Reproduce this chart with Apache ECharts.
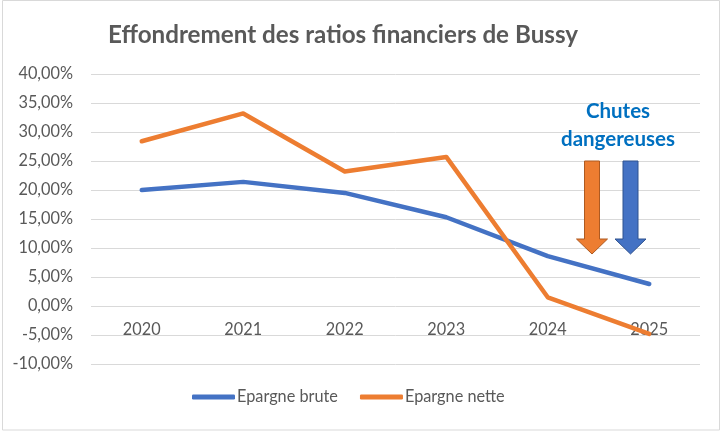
<!DOCTYPE html>
<html>
<head>
<meta charset="utf-8">
<script src="https://cdn.jsdelivr.net/npm/echarts@6/dist/echarts.min.js"></script>
<style>
html,body{margin:0;padding:0;background:#fff;}
#chart{width:723px;height:432px;}
</style>
</head>
<body>
<div id="chart"></div>
<script>
const categories = ['2020', '2021', '2022', '2023', '2024', '2025'];
const epargneBrute = [20.0, 21.4, 19.5, 15.3, 8.6, 3.8];
const epargneNette = [28.4, 33.2, 23.2, 25.7, 1.5, -4.8];
const seriesNames = ['Epargne brute', 'Epargne nette'];
const titleText = 'Effondrement des ratios financiers de Bussy';
const annotationText = 'Chutes\ndangereuses';

const FONT = 'Lato';
const LABEL_SIZE = 16.3;
const chart = echarts.init(document.getElementById('chart'));

function arrow(x, color, stroke) {
  return {
    type: 'polygon',
    shape: { points: [[x - 7.5, 161], [x + 7.5, 161], [x + 7.5, 239], [x + 15.5, 239], [x, 254], [x - 15.5, 239], [x - 7.5, 239]] },
    style: { fill: color, stroke: stroke, lineWidth: 1 },
    z: 10
  };
}

chart.setOption({
  animation: false,
  backgroundColor: '#ffffff',
  title: {
    text: titleText,
    left: 108,
    top: 23,
    padding: 0,
    textStyle: { fontFamily: FONT, fontSize: 24.2, fontWeight: 'bold', color: '#595959' }
  },
  grid: { left: 91, right: 23, top: 74, bottom: 68, containLabel: false },
  legend: {
    bottom: 22,
    left: 187,
    itemWidth: 43,
    itemHeight: 5,
    itemGap: 22,
    icon: 'roundRect',
    textStyle: { fontFamily: FONT, fontSize: LABEL_SIZE, color: '#595959', padding: [0, 0, 0, -3] },
    data: seriesNames
  },
  xAxis: {
    type: 'category',
    data: categories,
    boundaryGap: true,
    offset: -58,
    axisLine: { show: false, onZero: false },
    axisTick: { show: false },
    axisLabel: { margin: 16, fontFamily: FONT, fontSize: LABEL_SIZE, color: '#595959' },
    splitLine: { show: false }
  },
  yAxis: {
    type: 'value',
    min: -10,
    max: 40,
    interval: 5,
    axisLine: { show: false },
    axisTick: { show: false },
    axisLabel: {
      margin: 18,
      fontFamily: FONT, fontSize: LABEL_SIZE, color: '#595959',
      formatter: v => v.toFixed(2).replace('.', ',') + '%'
    },
    splitLine: { lineStyle: { color: '#d9d9d9', width: 1 } }
  },
  series: [
    {
      name: seriesNames[0], type: 'line', data: epargneBrute,
      showSymbol: false, symbol: 'none',
      lineStyle: { color: '#4472C4', width: 4.5, cap: 'round', join: 'round' },
      itemStyle: { color: '#4472C4' }
    },
    {
      name: seriesNames[1], type: 'line', data: epargneNette,
      showSymbol: false, symbol: 'none',
      lineStyle: { color: '#ED7D31', width: 4.5, cap: 'round', join: 'round' },
      itemStyle: { color: '#ED7D31' }
    }
  ],
  graphic: [
    {
      type: 'rect',
      shape: { x: 2.5, y: 0.5, width: 717, height: 429.5 },
      style: { fill: null, stroke: '#d9d9d9', lineWidth: 1 },
      silent: true
    },
    arrow(592, '#ED7D31', '#ae5a21'),
    arrow(630.5, '#4472C4', '#2f528f'),
    {
      type: 'text',
      x: 618, y: 125,
      style: {
        text: annotationText,
        fill: '#0070C0',
        font: 'bold 20.5px Lato',
        lineHeight: 28,
        align: 'center',
        verticalAlign: 'middle'
      },
      z: 10
    }
  ]
});
</script>
</body>
</html>
